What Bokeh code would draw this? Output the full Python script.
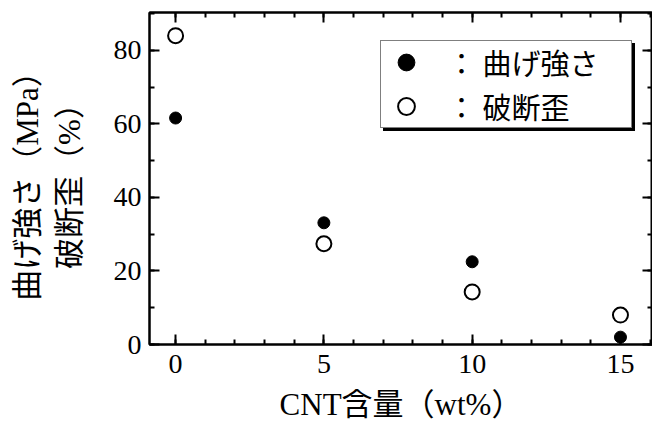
from bokeh.plotting import figure
from bokeh.models import (LinearAxis, SingleIntervalTicker, Legend, LegendItem, Range1d)
from bokeh.embed import file_html
from bokeh.resources import INLINE

# data
cnt = [0, 5, 10, 15]
strength = [61.6, 33.1, 22.5, 2.0]      # 曲げ強さ (MPa)
strain = [84.0, 27.4, 14.3, 8.0]        # 破断歪 (%)
x_ticks_interval = 5
y_ticks_interval = 20
x_tick_values = [0, 5, 10, 15]
y_tick_values = [0, 20, 40, 60, 80]
legend_labels = ["： 曲げ強さ", "： 破断歪"]

SERIF = "Liberation Serif, Noto Sans CJK JP"
SANS = "Noto Sans CJK JP"

p = figure(frame_width=503, frame_height=332, output_backend="svg", toolbar_location=None,
           x_range=Range1d(-0.88, 16.08), y_range=Range1d(0, 90.3),
           x_axis_location=None, y_axis_location=None,
           min_border_left=149, min_border_right=0, min_border_top=12, min_border_bottom=70)
p.grid.visible = False
p.outline_line_color = "black"
p.outline_line_width = 2
p.background_fill_color = "white"
p.border_fill_color = "white"

def style(ax, labels=True, ticks=()):
    ax.axis_line_width = 2
    ax.axis_line_color = "black"
    ax.major_tick_in = 10
    ax.major_tick_out = 0
    ax.minor_tick_in = 5
    ax.minor_tick_out = 0
    ax.major_tick_line_width = 2
    ax.minor_tick_line_width = 2
    ax.major_label_text_font = SERIF
    ax.major_label_text_color = "black"
    ax.major_label_text_font_size = "28px"
    if not labels:
        ax.major_label_overrides = {t: "" for t in ticks}
        ax.major_label_standoff = 0

xb = LinearAxis(ticker=SingleIntervalTicker(interval=x_ticks_interval, num_minor_ticks=5))
style(xb)
xb.major_label_standoff = 10
xb.axis_label = "CNT含量（wt%）"
xb.axis_label_text_font = SERIF
xb.axis_label_text_font_size = "31px"
xb.axis_label_text_font_style = "normal"
xb.axis_label_text_color = "black"
xb.axis_label_standoff = 11
p.add_layout(xb, "below")

xt = LinearAxis(ticker=SingleIntervalTicker(interval=x_ticks_interval, num_minor_ticks=5))
style(xt, labels=False, ticks=x_tick_values)
p.add_layout(xt, "above")

yl = LinearAxis(ticker=SingleIntervalTicker(interval=y_ticks_interval, num_minor_ticks=2))
style(yl)
yl.major_label_standoff = 8
yl.axis_label = "曲げ強さ（MPa）\n破断歪（%）"
yl.axis_label_text_font = SERIF
yl.axis_label_text_font_size = "31px"
yl.axis_label_text_font_style = "normal"
yl.axis_label_text_color = "black"
yl.axis_label_standoff = 24
p.add_layout(yl, "left")

yr = LinearAxis(ticker=SingleIntervalTicker(interval=y_ticks_interval, num_minor_ticks=2))
style(yr, labels=False, ticks=y_tick_values)
p.add_layout(yr, "right")

r1 = p.scatter(cnt, strength, marker="circle", size=12, fill_color="black", line_color="black")
r2 = p.scatter(cnt, strain, marker="circle", size=15, fill_color="white", line_color="black", line_width=2)

def make_legend(loc, shadow=False):
    labels = ["", ""] if shadow else legend_labels
    lg = Legend(items=[LegendItem(label=labels[0], renderers=[r1]),
                       LegendItem(label=labels[1], renderers=[r2])],
                location=loc, orientation="vertical")
    lg.label_text_font = SANS
    lg.label_text_font_size = "29px"
    lg.label_height = 42
    lg.glyph_height = 42
    lg.glyph_width = 50
    lg.label_standoff = 16
    lg.label_width = 184
    lg.spacing = 2
    lg.padding = 0
    lg.margin = 0
    lg.border_line_color = "black"
    lg.border_line_width = 1.5
    lg.background_fill_alpha = 1
    if shadow:
        lg.background_fill_color = "black"
    else:
        lg.background_fill_color = "white"
        lg.label_text_color = "black"
    return lg

p.add_layout(make_legend((234, 213), shadow=True), "center")
p.add_layout(make_legend((231, 216)), "center")

open("out.html", "w").write(file_html(p, INLINE))
